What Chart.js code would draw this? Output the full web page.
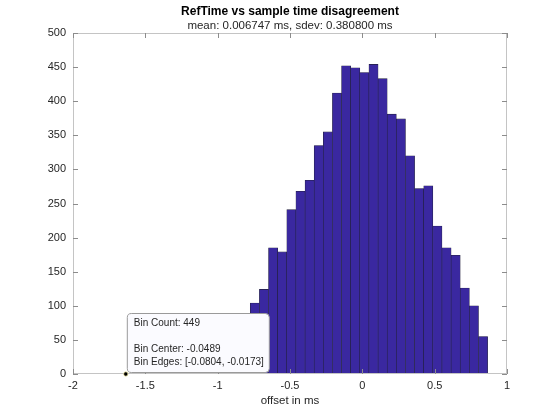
<!DOCTYPE html>
<html>
<head>
<meta charset="utf-8">
<title>RefTime vs sample time disagreement</title>
<script src="https://cdn.jsdelivr.net/npm/chart.js@4/dist/chart.umd.min.js"></script>
<style>
  html, body { margin: 0; padding: 0; background: #fff; }
</style>
</head>
<body>
<canvas id="grafico" width="560" height="420"></canvas>
<script>
// Datos del histograma (centros de bin en ms y conteos)
const centrosBin = [
  -1.6264, -1.5633, -1.5002, -1.4371, -1.3740, -1.3109, -1.2478, -1.1847,
  -1.1216, -1.0585, -0.9954, -0.9323, -0.8692, -0.8061, -0.7430, -0.6799,
  -0.6168, -0.5537, -0.4906, -0.4275, -0.3644, -0.3013, -0.2382, -0.1751,
  -0.1120, -0.0489, 0.0142, 0.0773, 0.1404, 0.2035, 0.2666, 0.3297,
  0.3928, 0.4559, 0.5190, 0.5821, 0.6452, 0.7083, 0.7714, 0.8345
]
const conteos = [
  1, 1, 1, 2, 1, 2, 2, 3,
  3, 4, 5, 8, 22, 55, 104, 124,
  185, 179, 241, 268, 284, 335, 355, 412,
  452, 449, 442, 454, 433, 381, 374, 320,
  272, 276, 217, 185, 174, 126, 100, 55
]
const ticksX = [-2, -1.5, -1, -0.5, 0, 0.5, 1]
const ticksY = [0, 50, 100, 150, 200, 250, 300, 350, 400, 450, 500]

const titulo = 'RefTime vs sample time disagreement'
const subtitulo = 'mean: 0.006747 ms, sdev: 0.380800 ms'
const etiquetaX = 'offset in ms'

// datatip de MATLAB
const datatipAncla = { x: -1.635, y: 0 }
const datatipLineas = ['Bin Count: 449', '', 'Bin Center: -0.0489', 'Bin Edges: [-0.0804, -0.0173]']

const fuente = 'Helvetica, Arial, "Liberation Sans", sans-serif'

// caja de ejes con ticks hacia adentro, títulos y datatip
const pluginEjes = {
  id: 'ejesMatlab',
  afterDraw(chart) {
    const { ctx, chartArea: a, scales } = chart
    const sx = scales.x, sy = scales.y
    ctx.save()
    ctx.strokeStyle = '#c4c4c4'
    ctx.lineWidth = 1
    ctx.strokeRect(a.left + 0.5, a.top + 0.5, a.right - a.left - 1, a.bottom - a.top - 1)

    ctx.strokeStyle = '#8c8c8c'
    ctx.beginPath()
    ticksX.forEach(v => {
      const px = Math.round(sx.getPixelForValue(v)) + 0.5
      ctx.moveTo(px, a.bottom); ctx.lineTo(px, a.bottom - 5)
      ctx.moveTo(px, a.top); ctx.lineTo(px, a.top + 5)
    })
    ticksY.forEach(v => {
      const py = Math.round(sy.getPixelForValue(v)) + 0.5
      ctx.moveTo(a.left, py); ctx.lineTo(a.left + 5, py)
      ctx.moveTo(a.right, py); ctx.lineTo(a.right - 5, py)
    })
    ctx.stroke()

    // títulos
    const cx = (a.left + a.right) / 2
    ctx.fillStyle = '#000'
    ctx.textAlign = 'center'
    ctx.textBaseline = 'middle'
    ctx.font = 'bold 12px ' + fuente
    ctx.fillText(titulo, cx, 11.5)
    ctx.fillStyle = '#262626'
    ctx.font = '11.5px ' + fuente
    ctx.fillText(subtitulo, cx, 25.5)

    // datatip
    const ax = sx.getPixelForValue(datatipAncla.x)
    const ay = sy.getPixelForValue(datatipAncla.y)
    const bx = ax + 1, by = ay - 61, bw = 142, bh = 59
    ctx.fillStyle = '#fbfbff'
    ctx.strokeStyle = '#9a9a9a'
    ctx.lineWidth = 1
    ctx.beginPath()
    ctx.roundRect(bx + 0.5, by + 0.5, bw, bh, 4)
    ctx.fill()
    ctx.stroke()
    ctx.fillStyle = '#262626'
    ctx.font = '10px ' + fuente
    ctx.textAlign = 'left'
    datatipLineas.forEach((t, i) => ctx.fillText(t, bx + 7, by + 10.5 + i * 12.8))
    ctx.beginPath()
    ctx.arc(ax, ay, 2.2, 0, Math.PI * 2)
    ctx.fillStyle = '#000'
    ctx.fill()
    ctx.strokeStyle = '#f5f0b0'
    ctx.lineWidth = 0.8
    ctx.stroke()
    ctx.restore()
  }
}

new Chart(document.getElementById('grafico'), {
  type: 'bar',
  data: {
    datasets: [{
      data: centrosBin.map((c, i) => ({ x: c, y: conteos[i] })),
      backgroundColor: 'rgb(58, 40, 160)',
      borderColor: '#23213f',
      borderWidth: 0.6,
      categoryPercentage: 1,
      barPercentage: 1
    }]
  },
  options: {
    responsive: false,
    animation: false,
    devicePixelRatio: 1,
    layout: { padding: { top: 33, right: 53, left: 0, bottom: 0 } },
    plugins: {
      legend: { display: false },
      tooltip: { enabled: false },
      title: { display: false }
    },
    scales: {
      x: {
        type: 'linear',
        min: -2,
        max: 1,
        offset: false,
        afterBuildTicks: s => { s.ticks = ticksX.map(v => ({ value: v })) },
        afterFit: s => { s.height = 46 },
        grid: { display: false, drawTicks: false },
        border: { display: false },
        ticks: {
          padding: 5, color: '#262626', font: { family: fuente, size: 11 },
          maxRotation: 0, autoSkip: false, callback: v => String(v)
        },
        title: { display: true, text: etiquetaX, color: '#262626', font: { family: fuente, size: 11.5 }, padding: { top: 0, bottom: 12 } }
      },
      y: {
        min: 0,
        max: 500,
        afterBuildTicks: s => { s.ticks = ticksY.map(v => ({ value: v })) },
        afterFit: s => { s.width = 73 },
        grid: { display: false, drawTicks: false },
        border: { display: false },
        ticks: {
          padding: 7, color: '#262626', font: { family: fuente, size: 11 },
          autoSkip: false, callback: v => String(v)
        }
      }
    }
  },
  plugins: [pluginEjes]
})
</script>
</body>
</html>
